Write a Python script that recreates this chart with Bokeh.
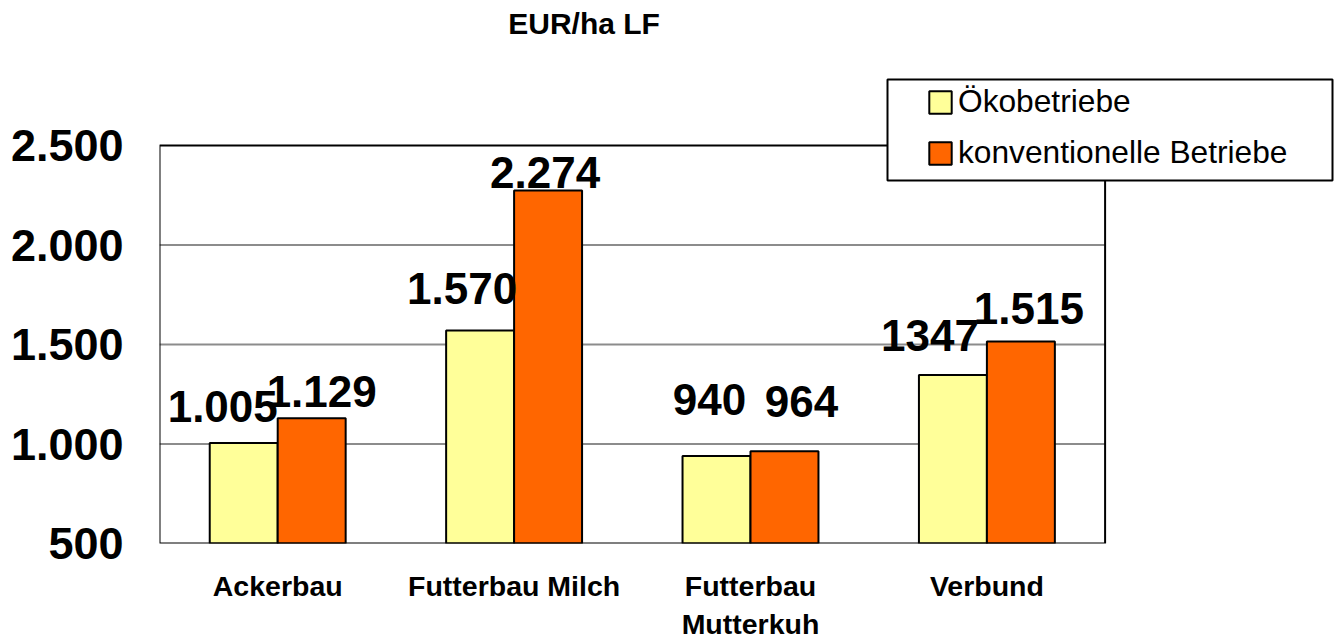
from bokeh.plotting import figure
from bokeh.models import (ColumnDataSource, Range1d, FixedTicker, Label,
                          Legend, LegendItem, BoxAnnotation)
from bokeh.core.properties import value
from bokeh.embed import file_html
from bokeh.resources import INLINE

# ---- data ----
categories = ["Ackerbau", "Futterbau Milch", "Futterbau\nMutterkuh", "Verbund"]
oeko = [1005, 1570, 940, 1347]
konv = [1129, 2274, 964, 1515]
oeko_labels = ["1.005", "1.570", "940", "1347"]
konv_labels = ["1.129", "2.274", "964", "1.515"]
y_ticks = [500, 1000, 1500, 2000, 2500]
y_tick_labels = ["500", "1.000", "1.500", "2.000", "2.500"]
series_names = ["Ökobetriebe", "konventionelle Betriebe"]
title_text = "EUR/ha LF"

# ---- label placement (pixel offsets, styling only) ----
oeko_dx = [-21, -18, -7, -23]
oeko_dy = [-37, -42, -56, -39]
konv_dx = [10, -3, 17, 8]
konv_dy = [-27, -18, -50, -33]

# ---- layout constants ----
FONT = "Liberation Sans"
YELLOW = "#FFFF99"
ORANGE = "#FF6600"
PX_X = 236.4                     # pixels per category
PX_Y = 398.0 / (y_ticks[-1] - y_ticks[0])  # pixels per value unit
FRAME_W, FRAME_H = 1175, 543
x_end = FRAME_W / PX_X
y_end = y_ticks[0] + FRAME_H / PX_Y

n = len(categories)
xc = [i + 0.5 for i in range(n)]
bw = 0.2875

src = ColumnDataSource(dict(
    xo=[x - bw / 2 for x in xc], xk=[x + bw / 2 for x in xc],
    oeko=oeko, konv=konv, oeko_lbl=oeko_labels, konv_lbl=konv_labels,
    oeko_dx=oeko_dx, oeko_dy=oeko_dy, konv_dx=konv_dx, konv_dy=konv_dy))

p = figure(x_range=Range1d(0, x_end), y_range=Range1d(y_ticks[0], y_end),
           frame_width=FRAME_W, frame_height=FRAME_H,
           output_backend="svg", toolbar_location=None,
           min_border_left=159, min_border_right=0, min_border_top=0,
           min_border_bottom=0)

p.outline_line_color = None
p.background_fill_color = "white"
p.border_fill_color = "white"
p.xgrid.grid_line_color = None
p.ygrid.grid_line_color = None

# grid lines limited to the chart area
p.segment(x0=[0] * (len(y_ticks) - 2), x1=[n] * (len(y_ticks) - 2),
          y0=y_ticks[1:-1], y1=y_ticks[1:-1], line_color="#8c8c8c", line_width=2)

r1 = p.vbar(x="xo", top="oeko", bottom=y_ticks[0], width=bw, source=src,
            fill_color=YELLOW, line_color="black", line_width=2)
r2 = p.vbar(x="xk", top="konv", bottom=y_ticks[0], width=bw, source=src,
            fill_color=ORANGE, line_color="black", line_width=2)

# chart area border
p.quad(left=[0], right=[n], bottom=[y_ticks[0]], top=[y_ticks[-1]],
       fill_color=None, line_color="black", line_width=2)

for xcol, col, lbl, dx, dy in [("xo", "oeko", "oeko_lbl", "oeko_dx", "oeko_dy"),
                               ("xk", "konv", "konv_lbl", "konv_dx", "konv_dy")]:
    p.text(x=xcol, y=col, text=lbl, source=src,
           x_offset=dx, y_offset=dy, text_align="center", text_baseline="alphabetic",
           text_font=value(FONT), text_font_style="bold", text_font_size="44px",
           text_color="black")

# axes
p.yaxis.ticker = FixedTicker(ticks=y_ticks)
p.yaxis.major_label_overrides = {t: l for t, l in zip(y_ticks, y_tick_labels)}
p.yaxis.major_label_text_font = FONT
p.yaxis.major_label_text_font_size = "45px"
p.yaxis.major_label_text_font_style = "bold"
p.yaxis.major_label_text_color = "black"
p.yaxis.major_label_standoff = 36
p.yaxis.axis_line_color = None
p.yaxis.major_tick_line_color = None
p.yaxis.minor_tick_line_color = None
p.yaxis.major_tick_in = 0
p.yaxis.major_tick_out = 0

p.xaxis.ticker = FixedTicker(ticks=xc)
p.xaxis.major_label_overrides = {x: c for x, c in zip(xc, categories)}
p.xaxis.major_label_text_font = FONT
p.xaxis.major_label_text_font_size = "28.5px"
p.xaxis.major_label_text_font_style = "bold"
p.xaxis.major_label_text_color = "black"
p.xaxis.major_label_text_line_height = 1.2
p.xaxis.major_label_standoff = 26
p.xaxis.axis_line_color = None
p.xaxis.major_tick_line_color = None
p.xaxis.minor_tick_line_color = None
p.xaxis.major_tick_in = 0
p.xaxis.major_tick_out = 0

# title
p.add_layout(Label(x=1.796, y=y_ticks[0] + 520 / PX_Y, text=title_text,
                   text_align="center", text_baseline="alphabetic",
                   text_font=FONT, text_font_size="30px", text_font_style="bold",
                   text_color="black"))

# legend frame (overlapping the chart corner)
box = BoxAnnotation(left=728 / PX_X, right=1173 / PX_X,
                    top=y_ticks[0] + 464 / PX_Y, bottom=y_ticks[0] + 363 / PX_Y,
                    fill_color="white", fill_alpha=1.0,
                    line_color="black", line_width=2, line_alpha=1.0)
p.add_layout(box)

legend = Legend(items=[LegendItem(label=series_names[0], renderers=[r1]),
                       LegendItem(label=series_names[1], renderers=[r2])],
                location=(767, 372), padding=0, spacing=14,
                glyph_width=28, glyph_height=28, label_standoff=4,
                label_text_font=FONT, label_text_font_size="31.7px",
                label_text_color="black",
                border_line_color=None, background_fill_alpha=0.0)
p.add_layout(legend)

open("out.html", "w").write(file_html(p, INLINE))
